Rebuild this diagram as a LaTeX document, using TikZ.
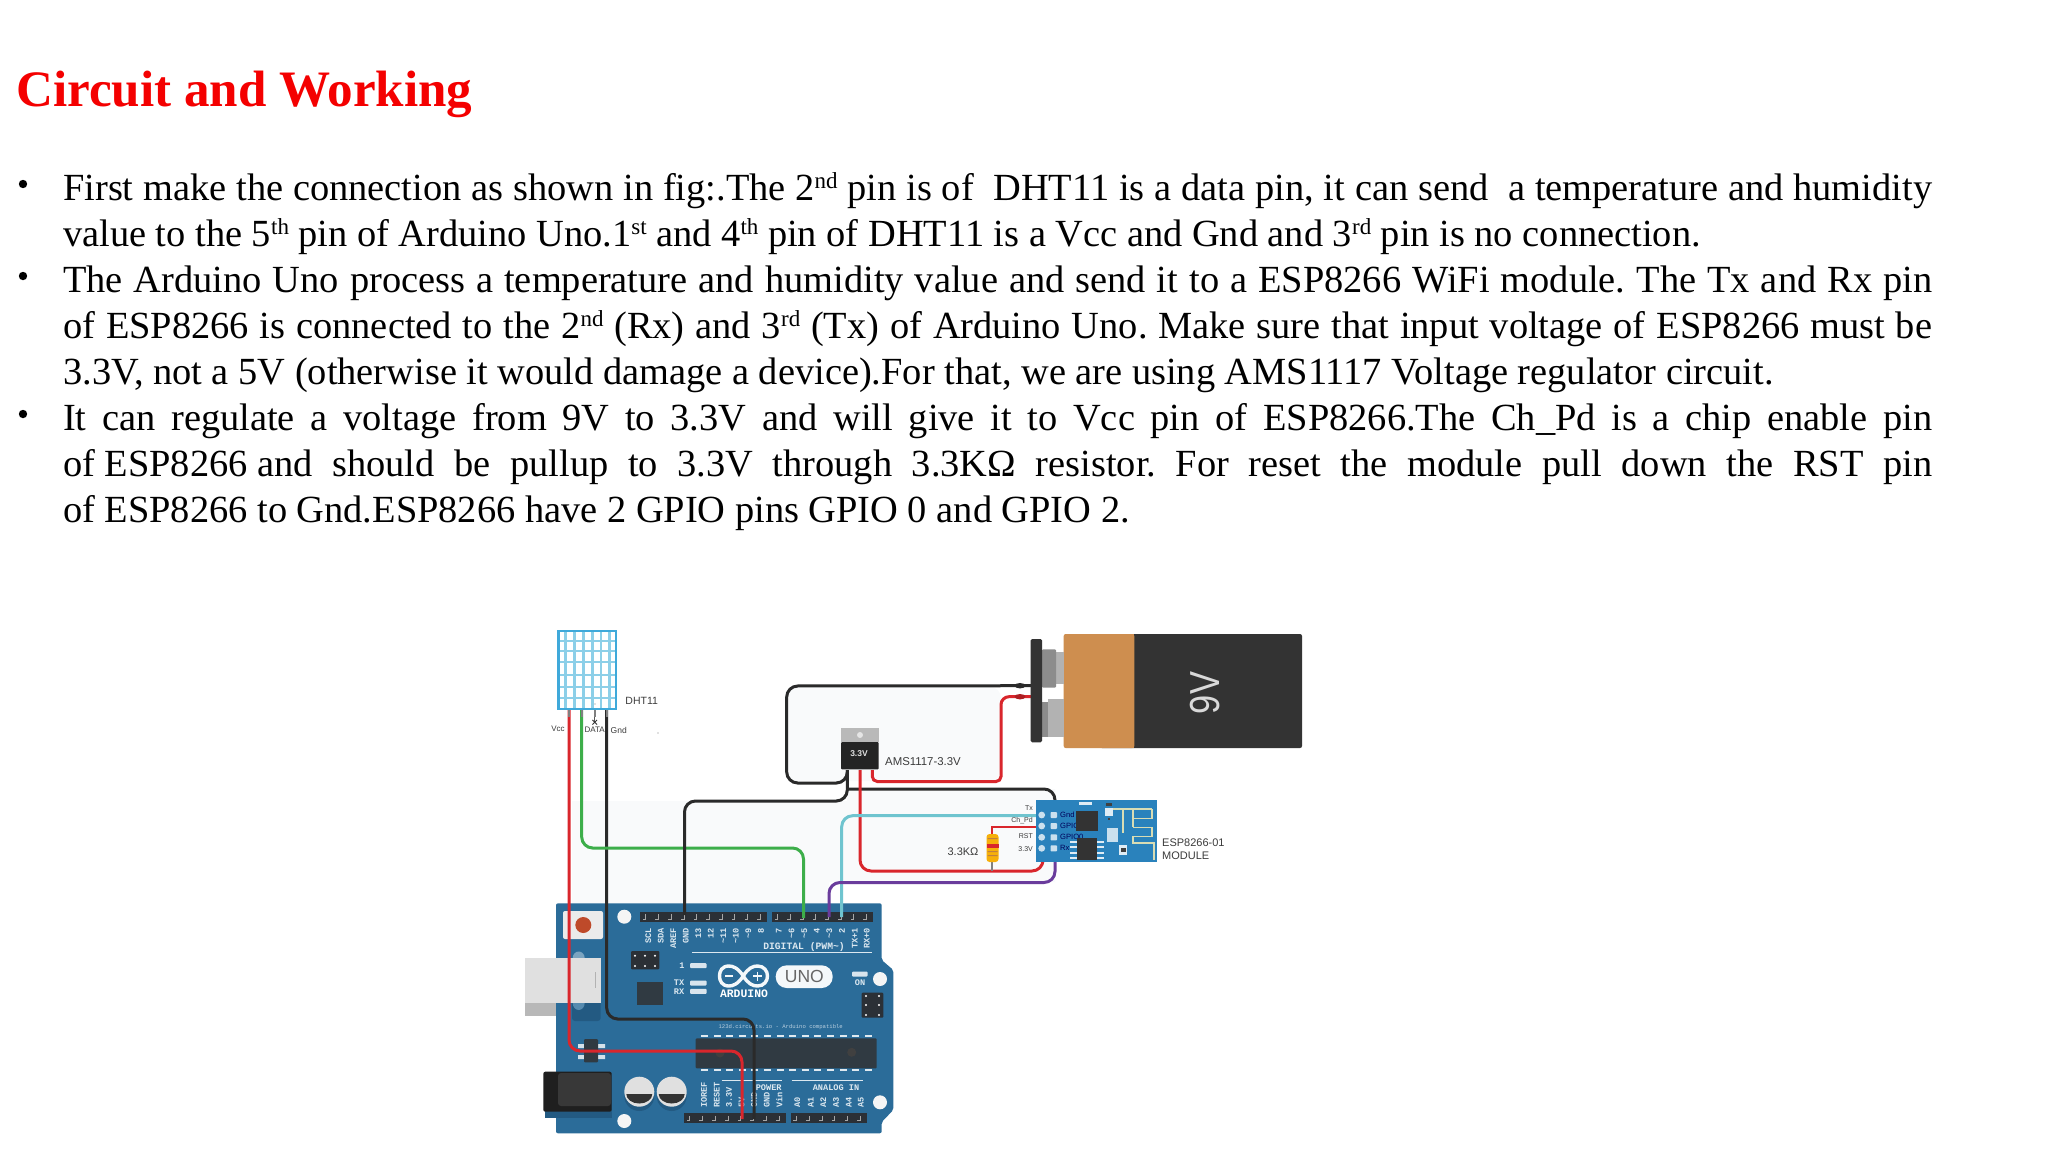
\documentclass[tikz,border=0pt]{standalone}
\usepackage{fontspec}
\setmainfont{Liberation Serif}
\setsansfont{Liberation Sans}
\newfontfamily\boardfont{Liberation Mono}
\usetikzlibrary{calc}
\definecolor{slidered}{HTML}{F40000}
\definecolor{boardblue}{HTML}{2B6C99}
\definecolor{boardtext}{HTML}{DCE8F0}
\definecolor{boardshade}{HTML}{235A82}
\definecolor{pindark}{HTML}{2B3036}
\definecolor{chipdark}{HTML}{303A42}
\definecolor{wirered}{HTML}{D9262C}
\definecolor{wiregreen}{HTML}{3DAE4A}
\definecolor{wireblack}{HTML}{2A2A2A}
\definecolor{wirecyan}{HTML}{6FC4CF}
\definecolor{wirepurple}{HTML}{6A3C9C}
\definecolor{dhtblue}{HTML}{3FA9DA}
\definecolor{dhtgrid}{HTML}{8CCFE8}
\definecolor{batdark}{HTML}{333333}
\definecolor{batorange}{HTML}{CE8E4F}
\definecolor{espblue}{HTML}{2A82BC}
\definecolor{labelgray}{HTML}{3C3C3C}
\definecolor{faintpanel}{HTML}{F9FAFB}
\definecolor{antenna}{HTML}{D8DCB4}
\definecolor{resetred}{HTML}{BE4A2A}
\def\sz#1{\fontsize{#1}{#1}\selectfont}
\def\bodyline#1{\makebox[1869pt][s]{#1}}
\def\sth#1{\raisebox{12pt}{\sz{23}#1}}
% row of header pins: x start, x end, y top, number of pins
\def\pinrow(#1:#2)(#3)#4{
	\fill[pindark] (#1,#3) rectangle (#2,#3+10);
	\foreach \k in {1,...,#4}{
		\draw[gray!70,line width=0.8pt] ({#1+(\k-0.55)*(#2-#1)/#4},#3+2.5) -- ++(0,5) -- ++(-3,0);
	}
}
\tikzset{
	bodytext/.style={anchor=base west,inner sep=0pt,font=\frenchspacing\sz{38.4}},
	wire/.style={line width=3pt,rounded corners=11pt},
	tag/.style={font=\sffamily\sz{8},text=labelgray,inner sep=0pt},
	pinlabel/.style={font=\boardfont\bfseries\sz{8.6},text=boardtext,inner sep=0pt,rotate=90},
	boardlabel/.style={font=\boardfont\bfseries\sz{9.7},text=boardtext,inner sep=0pt},
	hole/.style={fill=white!96!black},
	espleg/.style={fill=white!85!espblue},
}
\begin{document}
\begin{tikzpicture}[x=1pt,y=-1pt]
	\fill[white] (0,0) rectangle (2048,1152);
	\useasboundingbox (0,0) rectangle (2048,1152);

	%%%%% TEXT %%%%%
	\node[anchor=base west,inner sep=0pt,font=\bfseries\sz{51.1},text=slidered] (title) at (16,106) {Circuit and Working};
	\node[bodytext] (lineA) at (63,200) {\bodyline{First make the connection as shown in fig:.The 2\sth{nd} pin is of~ DHT11 is a data pin, it can send~ a temperature and humidity}};
	\node[bodytext] (lineB) at (63,246) {value to the 5\sth{th} pin of Arduino Uno.1\sth{st} and 4\sth{th} pin of DHT11 is a Vcc and Gnd and 3\sth{rd} pin is no connection.};
	\node[bodytext] (lineC) at (63,292) {\bodyline{The Arduino Uno process a temperature and humidity value and send it to a ESP8266 WiFi module. The Tx and Rx pin}};
	\node[bodytext] (lineD) at (63,338) {\bodyline{of ESP8266 is connected to the 2\sth{nd} (Rx) and 3\sth{rd} (Tx) of Arduino Uno. Make sure that input voltage of ESP8266 must be}};
	\node[bodytext] (lineE) at (63,384) {3.3V, not a 5V (otherwise it would damage a device).For that, we are using AMS1117 Voltage regulator circuit.};
	\node[bodytext] (lineF) at (63,430) {\bodyline{It can regulate a voltage from 9V to 3.3V and will give it to Vcc pin of ESP8266.The Ch\_Pd is a chip enable pin}};
	\node[bodytext] (lineG) at (63,476) {\bodyline{of\hspace{9.6pt}ESP8266\hspace{9.6pt}and should be pullup to 3.3V through 3.3KΩ resistor. For reset the module pull down the RST pin}};
	\node[bodytext] (lineH) at (63,522) {of ESP8266 to Gnd.ESP8266 have 2 GPIO pins GPIO 0 and GPIO 2.};
	\foreach \y in {184,276,414}{
		\fill[black] (23,\y) circle (4.2);
	}

	%%%%% FAINT PANELS BEHIND WIRES %%%%%
	\fill[faintpanel,rounded corners=11pt] (787,687) rectangle (1001,781);
	\fill[faintpanel] (572,801) -- (847,801) -- (847,789) -- (1055,789) -- (1055,882) -- (829,882) -- (829,904) -- (572,904) -- cycle;

	%%%%% ARDUINO %%%%%
	\fill[boardblue,rounded corners=2pt] (556,903.3) -- (881.7,903.3) -- (881.7,960) -- (893.3,970) -- (893.3,1110) -- (881.7,1122) -- (881.7,1133.3) -- (556,1133.3) -- cycle;
	\pinrow(640:767.3)(911.7){10}
	\pinrow(772:873.3)(911.7){8}
	\pinrow(684:786)(1113.3){8}
	\pinrow(790.7:867.3)(1113.3){6}
	\foreach \x/\t [count=\k] in {648.3/SCL,660.8/SDA,673.3/AREF,685.8/GND,698.3/13,710.8/12,723.3/\textasciitilde 11,735.8/\textasciitilde 10,748.3/\textasciitilde 9,761/8,778.7/7,791.6/\textasciitilde 6,804.3/\textasciitilde 5,816.7/4,829.3/\textasciitilde 3,842/2,854.7/TX+1,866.7/RX+0}{
		\node[pinlabel,anchor=east] (dig\k) at (\x,928) {\t};
	}
	\node[boardlabel] (digital) at (804,947.3) {DIGITAL (PWM\textasciitilde)};
	\draw[boardtext,line width=1.2pt] (692,952.3) -- (872,952.3);
	\foreach \x/\t [count=\k] in {704/IOREF,716.7/RESET,729/3.3V,741.7/5V,754/GND,766.7/GND,779.3/Vin,797.3/A0,810.7/A1,823.3/A2,836/A3,848.7/A4,860.7/A5}{
		\node[pinlabel,anchor=west] (pow\k) at (\x,1108) {\t};
	}
	\node[boardlabel,font=\boardfont\bfseries\sz{8.6}] (power) at (768.7,1087.3) {POWER};
	\node[boardlabel,font=\boardfont\bfseries\sz{8.6}] (analog) at (836,1087.3) {ANALOG IN};
	\draw[boardtext,line width=1pt] (721.7,1080.7) -- (782.3,1080.7);
	\draw[boardtext,line width=1pt] (791.7,1080.7) -- (863.3,1080.7);
	% reset button and usb
	\fill[white!92!black,rounded corners=2pt] (563,911) rectangle (603,939);
	\fill[resetred] (583.3,925) circle (8);
	\fill[boardshade,rounded corners=3pt] (572,1000) rectangle (600.7,1021);
	\fill[boardtext!45!boardblue] (578.7,958) ellipse (6 and 6.5);
	\fill[boardtext!25!boardblue] (578.7,1003) ellipse (6 and 7);
	\fill[white!88!black] (525,958.3) rectangle (600.7,1002.7);
	\fill[white!72!black] (525,1002.7) rectangle (556,1016);
	\draw[white!70!black,line width=1pt] (595.5,972) -- (595.5,988);
	% holes
	\foreach \x/\y in {624.3/916.7,624.3/1121,880/979,880/1102.3}{
		\fill[hole] (\x,\y) circle (7);
	}
	% icsp blocks
	\fill[pindark,rounded corners=1pt] (631,951) rectangle (659.3,969.3);
	\foreach \x in {635,645,655}{
		\foreach \y in {955.7,966}{
			\fill[white] (\x,\y) circle (1.2);
		}
	}
	\fill[pindark,rounded corners=1pt] (861.7,992.7) rectangle (883.3,1017.7);
	\foreach \x in {866,879}{
		\foreach \y in {996,1005,1015}{
			\fill[white] (\x,\y) circle (1.2);
		}
	}
	\fill[chipdark] (636.7,982.3) rectangle (663.3,1005);
	% leds and logo
	\foreach \y in {965.7,983,991.3}{
		\fill[white!82!boardblue,rounded corners=1pt] (690,\y-2.5) rectangle (706.7,\y+2.5);
	}
	\fill[white!82!boardblue,rounded corners=1pt] (852,971.5) rectangle (867.7,976.5);
	\node[boardlabel,font=\boardfont\bfseries\sz{8.6}] (ledL) at (682,965.7) {1};
	\node[boardlabel,font=\boardfont\bfseries\sz{8.6}] (ledT) at (679,983) {TX};
	\node[boardlabel,font=\boardfont\bfseries\sz{8.6}] (ledR) at (679,991.5) {RX};
	\node[boardlabel,font=\boardfont\bfseries\sz{8.6}] (ledO) at (860,982.7) {ON};
	\draw[white!95!boardblue,line width=3.4pt] (743.3,976) .. controls (738,968) and (733,966) .. (729,966) .. controls (722,966) and (719.5,971) .. (719.5,976) .. controls (719.5,981) and (722,986) .. (729,986) .. controls (733,986) and (738,984) .. (743.3,976) .. controls (748,968) and (753,966) .. (757.5,966) .. controls (764,966) and (767.5,971) .. (767.5,976) .. controls (767.5,981) and (764,986) .. (757.5,986) .. controls (753,986) and (748,984) .. (743.3,976);
	\draw[white!95!boardblue,line width=1.6pt] (725,976) -- (733,976) (753,976) -- (762,976) (757.5,971.5) -- (757.5,980.5);
	\node[boardlabel,font=\boardfont\bfseries\sz{11.4},text=white] (logo) at (744,994) {ARDUINO};
	\fill[white!95!boardblue,rounded corners=11pt] (775.7,965.3) rectangle (832.7,988);
	\node[inner sep=0pt,font=\sffamily\sz{17.5},text=gray!80!black] (uno) at (804.3,976.9) {UNO};
	\node[boardlabel,font=\boardfont\sz{5.6},text=boardtext!80!boardblue] (site) at (780.7,1026.7) {123d.circuits.io - Arduino compatible};
	% atmega chip
	\fill[chipdark,rounded corners=1pt] (695.7,1038.3) rectangle (876.7,1068.3);
	\fill[black!75] (720,1053) circle (4.5) (851.7,1052.3) circle (4.5);
	\foreach \k in {0,...,13}{
		\fill[white!85!boardblue] ({701+\k*12.6},1034.5) rectangle ++(7,2.5);
		\fill[white!85!boardblue] ({701+\k*12.6},1068.5) rectangle ++(7,2.5);
	}
	% regulator, jack, capacitors
	\fill[white!80!boardblue] (578,1044) rectangle (605,1048) (578,1055) rectangle (605,1059);
	\fill[chipdark,rounded corners=1pt] (584,1039) rectangle (598,1062.3);
	\fill[boardshade] (545,1100) rectangle (612,1118);
	\fill[black!88,rounded corners=2pt] (543.3,1071.7) rectangle (611.7,1111.7);
	\fill[black!78,rounded corners=3pt] (558,1073) rectangle (611,1106);
	\foreach \x in {639.3,671.7}{
		\fill[boardshade] (\x,1096) circle (15);
		\fill[white!88!black] (\x,1091.7) circle (15);
		\fill[batdark] (\x-13,1094) arc (180:0:13 and 9.5) -- cycle;
	}

	%%%%% WIRES %%%%%
	\coordinate (dhtVcc) at (569,710);
	\coordinate (dhtData) at (581.7,710);
	\coordinate (dhtGnd) at (606.7,710);
	\coordinate (amsGnd) at (847.3,770);
	\coordinate (amsOut) at (860,770);
	\coordinate (amsIn) at (872.3,770);
	\coordinate (batNeg) at (1031,685.7);
	\coordinate (batPos) at (1031,696.7);
	\coordinate (esp33) at (1043,862);
	\coordinate (espRx) at (1055,862);
	\coordinate (espTx) at (1036,815.7);
	\coordinate (espGnd) at (1055,801);
	\coordinate (espCh) at (1036,826.7);
	\draw[wire,wirered] (dhtVcc) -- (569,1051) -- (742,1051) -- (742,1119);
	\draw[wire,wireblack] (dhtGnd) -- (606.7,1019) -- (754,1019) -- (754,1119);
	\draw[wire,wiregreen] (dhtData) -- (581.7,848) -- (803.5,848) -- (803.5,918);
	\draw[wire,wireblack] (amsGnd) -- (847.3,783) -- (786.7,783) -- (786.7,686) -- (batNeg);
	\draw[wire,wireblack] (amsGnd) -- (847.3,801) -- (684.5,801) -- (684.5,915);
	\draw[wire,wireblack] (847.3,789) -- (1055,789) -- (espGnd);
	\draw[wire,wirered,rounded corners=5pt] (amsIn) -- (872.3,781.5) -- (1001,781.5) [rounded corners=8pt] -- (1001,696.7) -- (batPos);
	\draw[wire,wirered] (amsOut) -- (860,871) -- (1043,871) -- (esp33);
	\draw[wire,wirecyan] (espTx) -- (841.7,815.7) -- (841.7,917);
	\draw[wire,wirepurple] (espRx) -- (1055,882.5) -- (829,882.5) -- (829,917);
	\draw[wirered,line width=2.2pt] (espCh) -- (991.7,826.7) -- (991.7,836);
	\draw[gray,line width=1.6pt] (991.7,860) -- (991.7,871);
	\fill[wireblack] (1020,685.7) ellipse (5.5 and 2.7);
	\fill[wirered!80!black] (1020,696.7) ellipse (5.5 and 2.7);

	%%%%% DHT11 %%%%%
	\foreach \x in {569,581.7,594.7,606.7}{
		\draw[gray,line width=1.6pt] (\x,710) -- (\x,717);
	}
	\draw[gray!70!black,line width=1.4pt] (594.7,717) -- (594.7,722);
	\draw[black!80,line width=0.9pt] (592.4,720) -- (597,724.5) (597,720) -- (592.4,724.5);
	\fill[white] (557.3,630) rectangle (617.3,710);
	\foreach \x in {565.5,574.5,583.5,592.5,601,609.5}{
		\draw[dhtgrid,line width=2.5pt] (\x,631) -- (\x,709);
	}
	\foreach \y in {641,651,662,675,687,698}{
		\draw[dhtgrid,line width=2.5pt] (558,\y) -- (617,\y);
	}
	\draw[dhtblue,line width=2.4pt] (558.5,631) rectangle (616.2,709);
	\node[tag,font=\sffamily\sz{10.5}] (dhtName) at (641.7,700.7) {DHT11};
	\node[tag] (dhtA) at (558,729) {Vcc};
	\node[tag] (dhtB) at (594.7,730) {DATA};
	\node[tag,font=\sffamily\sz{8.5}] (dhtC) at (618.7,730) {Gnd};
	\fill[gray] (595,704) circle (0.6) (658,733) circle (0.6);

	%%%%% AMS1117 %%%%%
	\fill[gray!55] (841,728) rectangle (878.7,742);
	\fill[batdark!70!black,rounded corners=1pt] (841,742) rectangle (878.7,769.3);
	\fill[white!90!black] (860,735) circle (3);
	\node[inner sep=0pt,font=\sffamily\bfseries\sz{8.5},text=white!88!black] (amsText) at (859,754) {3.3V};
	\node[tag,anchor=west,font=\sffamily\sz{11.4}] (amsName) at (885,762) {AMS1117-3.3V};

	%%%%% BATTERY %%%%%
	\fill[batdark,rounded corners=2pt] (1100,634) rectangle (1302,748);
	\fill[batorange,rounded corners=2pt] (1063.7,634) rectangle (1134.3,748);
	\fill[batorange] (1120,634) rectangle (1134.3,748);
	\fill[gray!60] (1056,652) rectangle (1063.7,684);
	\fill[gray!90,rounded corners=1pt] (1042,649.3) rectangle (1056,687.7);
	\fill[gray!60] (1047.7,699) rectangle (1063.7,737);
	\fill[gray!90] (1042,702) rectangle (1047.7,736.7);
	\fill[batdark,rounded corners=1.5pt] (1030.7,639) rectangle (1042,742.3);
	\node[inner sep=0pt,rotate=90,font=\sffamily\sz{42},text=white!85!black] (batText) at (1205,693) {\scalebox{0.82}[1]{9V}};

	%%%%% RESISTOR %%%%%
	\fill[orange!55!yellow!85!brown,rounded corners=3pt] (986.5,834) rectangle (998.5,862);
	\fill[wirered] (986.5,844) rectangle (998.5,847.5);
	\fill[brown] (987.5,838) rectangle (997.5,839) (987.5,851) rectangle (997.5,852) (987.5,855) rectangle (997.5,856);
	\node[tag,font=\sffamily\sz{11}] (resText) at (963,851.7) {3.3KΩ};

	%%%%% ESP8266 %%%%%
	\fill[espblue] (1035.7,800.3) rectangle (1157,862.3);
	\foreach \y/\t [count=\k] in {815/Gnd,826/GPIO2,837.3/GPIO0,848.3/Rx}{
		\fill[white!75!espblue] (1041.7,\y) circle (3.4);
		\fill[white!75!espblue,rounded corners=0.8pt] (1050.5,\y-3) rectangle (1057,\y+3);
		\node[tag,anchor=west,font=\sffamily\sz{7.6},text=black!65!blue] (espR\k) at (1060,\y) {\t};
	}
	\foreach \y/\t [count=\k] in {808.3/Tx,820.7/Ch\_Pd,836/RST,848.7/3.3V}{
		\node[tag,anchor=east,font=\sffamily\sz{7}] (espL\k) at (1033,\y) {\t};
	}
	\fill[batdark] (1075.7,810.7) rectangle (1098.3,830.7);
	\fill[batdark] (1076.7,838.3) rectangle (1097.3,860);
	\foreach \y in {840.5,846,851.5,857}{
		\fill[espleg] (1070,\y) rectangle (1076.7,\y+2);
		\fill[espleg] (1097.3,\y) rectangle (1104,\y+2);
	}
	\fill[white!75!espblue] (1107.3,828.3) rectangle (1118.3,841.7);
	\fill[espleg] (1079,801.5) rectangle (1092,805);
	\fill[black!75] (1106,802.5) rectangle (1112,805.5);
	\fill[espleg] (1105,808) rectangle (1113,816);
	\fill[black!75] (1107.5,817.5) rectangle (1110,820);
	\fill[espleg] (1119,845) rectangle (1127,855);
	\fill[black!75] (1120.5,848) rectangle (1125.5,852);
	\draw[antenna,line width=1.5pt] (1113,809) -- (1152,809) (1123,809) -- (1123,833);
	\draw[antenna,line width=1.5pt] (1133,810) -- (1133,827) (1133,818.5) -- (1152,818.5) -- (1152,809) (1133,827.5) -- (1152,827.5) -- (1152,836.5) -- (1133,836.5) -- (1133,843) -- (1154,843) -- (1154,860);
	\node[tag,anchor=west,font=\sffamily\sz{11},align=left] (espNameA) at (1162,842.3) {ESP8266-01};
	\node[tag,anchor=west,font=\sffamily\sz{11},align=left] (espNameB) at (1162,856) {MODULE};
\end{tikzpicture}
\end{document}
